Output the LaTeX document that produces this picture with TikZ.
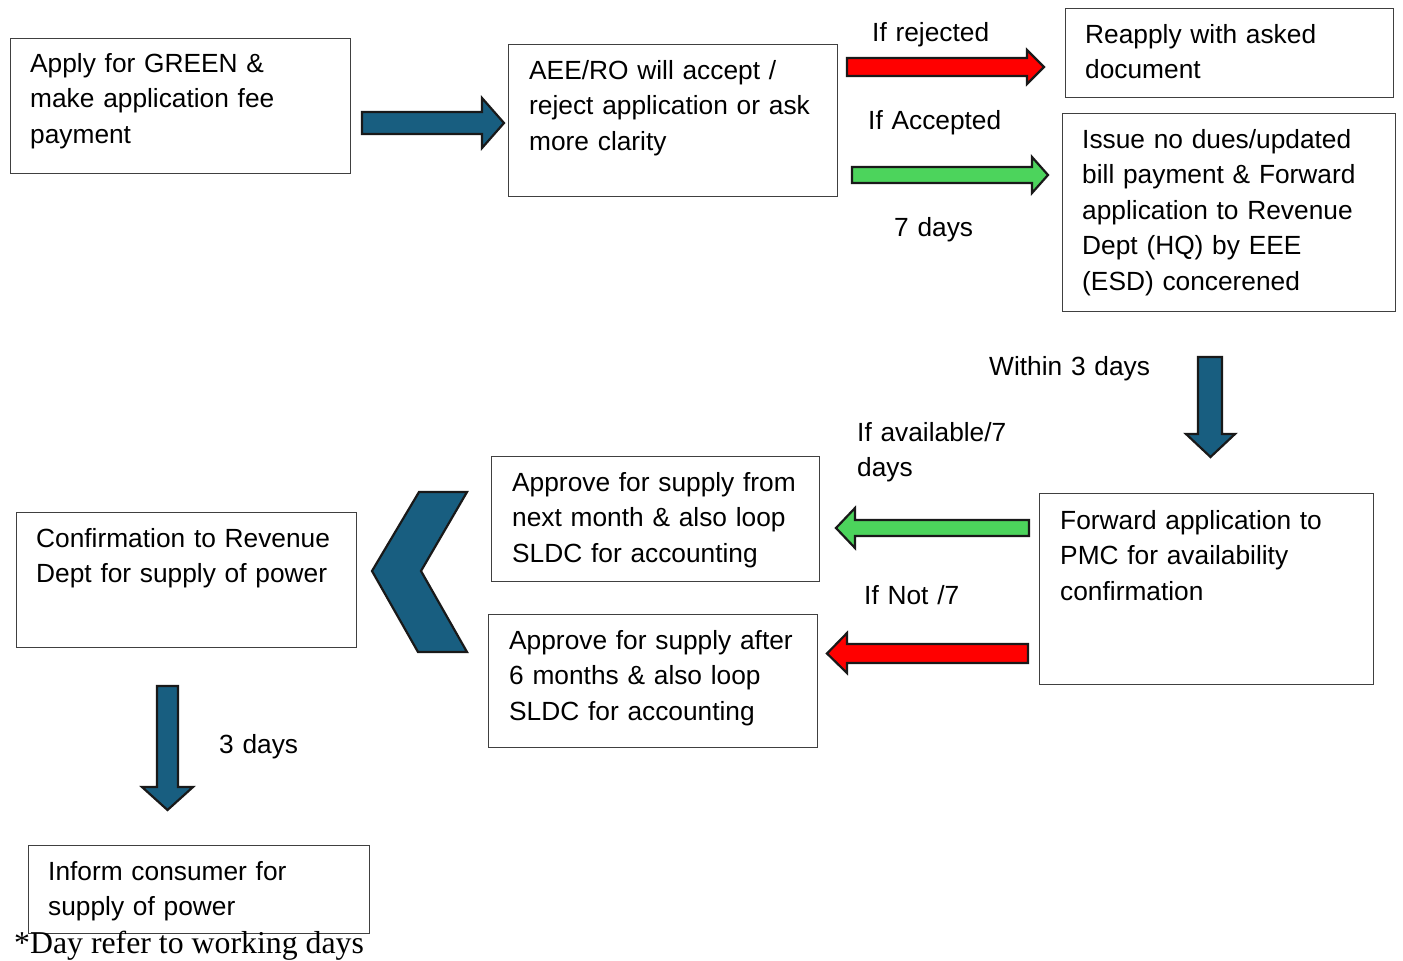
\documentclass[tikz,border=0pt]{standalone}
\usepackage{fontspec}
\setmainfont{Liberation Sans}
\newfontfamily\footfont{Liberation Serif}
\definecolor{arrblue}{RGB}{24,94,128}
\definecolor{arrred}{RGB}{255,0,0}
\definecolor{arrgreen}{RGB}{76,212,92}
\tikzset{
  box/.style={draw=black!75, line width=1.3pt, anchor=north west, inner sep=0pt},
  txt/.style={font=\fontsize{26.3}{35.5}\selectfont, anchor=base west, inner sep=0pt,
              align=left, text width=340pt},
  lbl/.style={font=\fontsize{26.3}{35.8}\selectfont, anchor=base west, inner sep=0pt,
              align=left, text width=200pt},
  blockarrow/.style={draw=black!90, line width=2.2pt, line join=miter}
}
\begin{document}
\begin{tikzpicture}[x=1pt,y=-1pt]
\useasboundingbox (0,0) rectangle (1403,961);

% boxes
\node[box, minimum width=340pt, minimum height=135pt] (b1) at (10,38) {};
\node[txt] (t1) at (30,72) {Apply for GREEN \&\\make application fee\\payment};

\node[box, minimum width=329pt, minimum height=152pt] (b2) at (508,44) {};
\node[txt] (t2) at (529,79) {AEE/RO will accept /\\reject application or ask\\more clarity};

\node[box, minimum width=328pt, minimum height=89pt] (b3) at (1065,8) {};
\node[txt] (t3) at (1085,43) {Reapply with asked\\document};

\node[box, minimum width=333pt, minimum height=198pt] (b4) at (1062,113) {};
\node[txt] (t4) at (1082,148) {Issue no dues/updated\\bill payment \& Forward\\application to Revenue\\Dept (HQ) by EEE\\(ESD) concerened};

\node[box, minimum width=334pt, minimum height=191pt] (b5) at (1039,493) {};
\node[txt] (t5) at (1060,529) {Forward application to\\PMC for availability\\confirmation};

\node[box, minimum width=328pt, minimum height=125pt] (b6) at (491,456) {};
\node[txt] (t6) at (512,491) {Approve for supply from\\next month \& also loop\\SLDC for accounting};

\node[box, minimum width=329pt, minimum height=133pt] (b7) at (488,614) {};
\node[txt] (t7) at (509,649) {Approve for supply after\\6 months \& also loop\\SLDC for accounting};

\node[box, minimum width=340pt, minimum height=135pt] (b8) at (16,512) {};
\node[txt] (t8) at (36,547) {Confirmation to Revenue\\Dept for supply of power};

\node[box, minimum width=341pt, minimum height=88pt] (b9) at (28,845) {};
\node[txt] (t9) at (48,880) {Inform consumer for\\supply of power};

% labels
\node[lbl] (l1) at (872,41) {If rejected};
\node[lbl] (l2) at (868,129) {If Accepted};
\node[lbl] (l3) at (894,236) {7 days};
\node[lbl] (l4) at (989,375) {Within 3 days};
\node[lbl] (l5) at (857,441) {If available/7\\days};
\node[lbl] (l6) at (864,604) {If Not /7};
\node[lbl] (l7) at (219,753) {3 days};
\node[font=\footfont\fontsize{31.8}{36}\selectfont, anchor=base west, inner sep=0pt] (fn) at (14,953) {*Day refer to working days};

% block arrows
\draw[blockarrow, fill=arrblue] (362,112) -- (482,112) -- (482,98) -- (504,123) -- (482,148) -- (482,134) -- (362,134) -- cycle;
\draw[blockarrow, fill=arrred] (847,58) -- (1027,58) -- (1027,50) -- (1044,67) -- (1027,84) -- (1027,76) -- (847,76) -- cycle;
\draw[blockarrow, fill=arrgreen] (852,167) -- (1032,167) -- (1032,157) -- (1048,175) -- (1032,193) -- (1032,183) -- (852,183) -- cycle;
\draw[blockarrow, fill=arrblue] (1198,357) -- (1222,357) -- (1222,434) -- (1235,434) -- (1210.5,457) -- (1186,434) -- (1198,434) -- cycle;
\draw[blockarrow, fill=arrgreen] (1029,520) -- (855,520) -- (855,508) -- (836,528) -- (855,548) -- (855,536) -- (1029,536) -- cycle;
\draw[blockarrow, fill=arrred] (1028,644) -- (847,644) -- (847,633) -- (827,653.5) -- (847,673) -- (847,663) -- (1028,663) -- cycle;
\draw[blockarrow, fill=arrblue] (419,492) -- (467,492) -- (421,571) -- (467,652) -- (418,652) -- (372,571) -- cycle;
\draw[blockarrow, fill=arrblue] (157,686) -- (178,686) -- (178,787) -- (193,787) -- (167.5,810) -- (142,787) -- (157,787) -- cycle;
\end{tikzpicture}
\end{document}
